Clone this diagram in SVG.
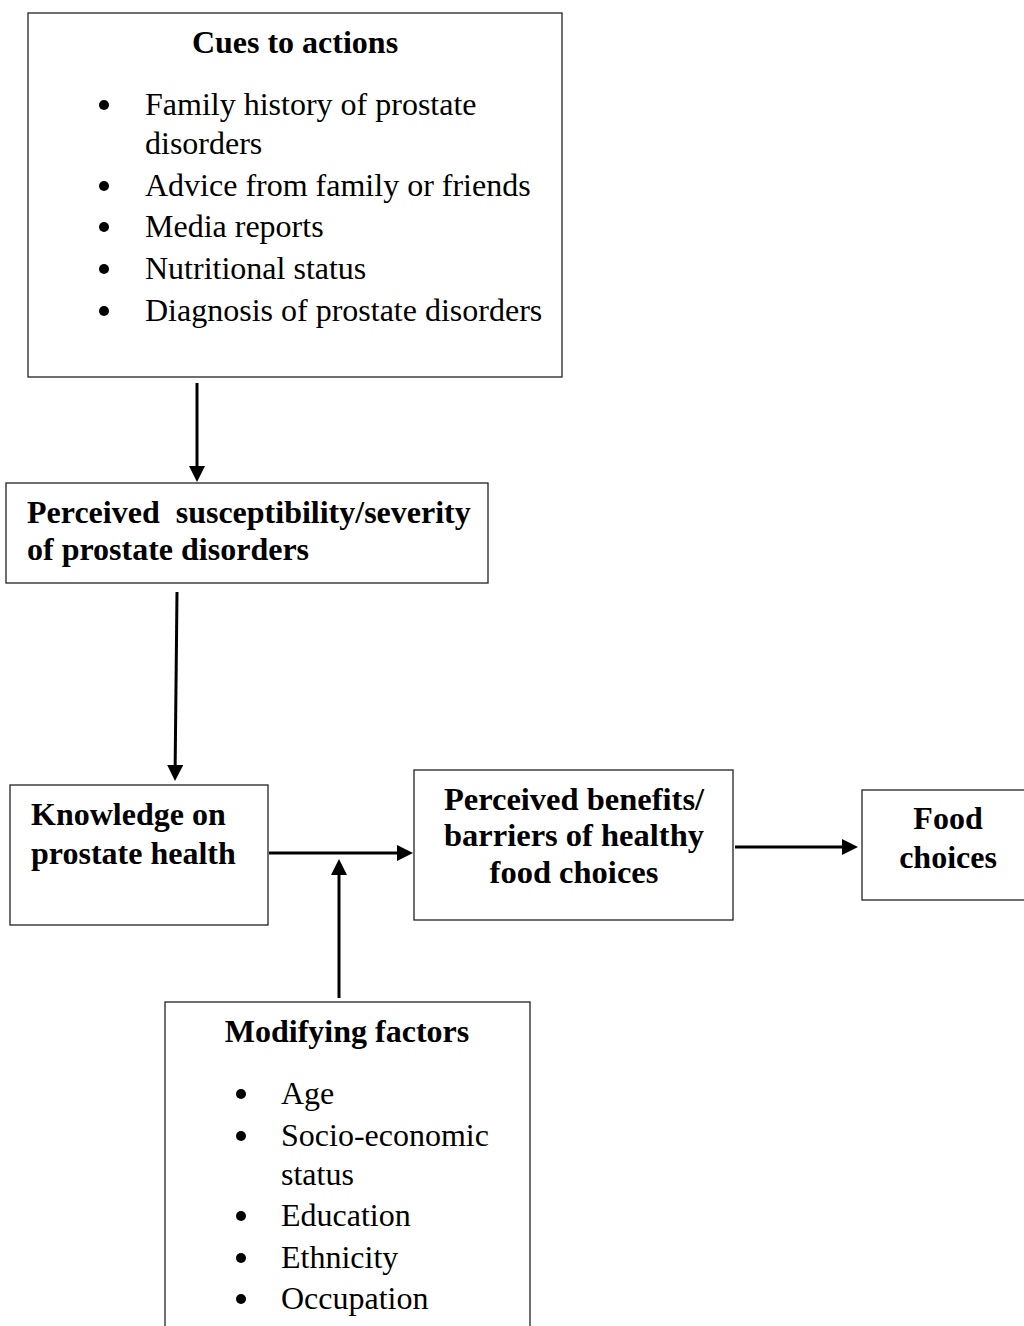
<svg xmlns="http://www.w3.org/2000/svg" width="1024" height="1326" viewBox="0 0 1024 1326">
<style>
.box{fill:#fff;stroke:#222;stroke-width:1.3}
.t{font-family:"Liberation Serif","Times New Roman",serif;font-size:32px;fill:#000}
.b{font-weight:bold}
.c{text-anchor:middle}
.w{font-size:32.5px}
.ln{stroke:#000;stroke-width:3;fill:none}
</style>
<defs>
<marker id="ah" markerWidth="6" markerHeight="6" refX="2" refY="2.67" orient="auto" markerUnits="strokeWidth">
<path d="M0,0 L5.33,2.67 L0,5.33 Z" fill="#000"/>
</marker>
</defs>
<rect width="1024" height="1326" fill="#fff"/>
<g id="cues">
<rect class="box" x="28" y="13" width="534" height="364"/>
<text class="t b c" x="295" y="53">Cues to actions</text>
<g class="t">
<circle cx="104" cy="105" r="5"/><text x="145" y="115">Family history of prostate</text>
<text x="145" y="154">disorders</text>
<circle cx="104" cy="186" r="5"/><text x="145" y="196">Advice from family or friends</text>
<circle cx="104" cy="227" r="5"/><text x="145" y="237">Media reports</text>
<circle cx="104" cy="269" r="5"/><text x="145" y="279">Nutritional status</text>
<circle cx="104" cy="311" r="5"/><text x="145" y="321">Diagnosis of prostate disorders</text>
</g>
</g>
<g id="susceptibility">
<rect class="box" x="6" y="483" width="482" height="100"/>
<text class="t b" x="27" y="523" xml:space="preserve">Perceived  susceptibility/severity</text>
<text class="t b" x="27" y="560">of prostate disorders</text>
</g>
<g id="knowledge">
<rect class="box" x="10" y="785" width="258" height="140"/>
<text class="t b" x="31" y="825">Knowledge on</text>
<text class="t b" x="31" y="864">prostate health</text>
</g>
<g id="benefits">
<rect class="box" x="414" y="770" width="319" height="150"/>
<text class="t b c w" x="574" y="810">Perceived benefits/</text>
<text class="t b c w" x="574" y="846">barriers of healthy</text>
<text class="t b c w" x="574" y="883">food choices</text>
</g>
<g id="food">
<rect class="box" x="862" y="790" width="170" height="110"/>
<text class="t b c" x="948" y="829">Food</text>
<text class="t b c" x="948" y="868">choices</text>
</g>
<g id="modifying">
<rect class="box" x="165" y="1002" width="365" height="340"/>
<text class="t b c" x="347" y="1042">Modifying factors</text>
<g class="t">
<circle cx="241" cy="1094" r="5"/><text x="281" y="1104">Age</text>
<circle cx="241" cy="1136" r="5"/><text x="281" y="1146">Socio-economic</text>
<text x="281" y="1185">status</text>
<circle cx="241" cy="1216" r="5"/><text x="281" y="1226">Education</text>
<circle cx="241" cy="1258" r="5"/><text x="281" y="1268">Ethnicity</text>
<circle cx="241" cy="1299" r="5"/><text x="281" y="1309">Occupation</text>
</g>
</g>
<g id="connectors">
<line class="ln" x1="197" y1="383" x2="197" y2="472" marker-end="url(#ah)"/>
<line class="ln" x1="177" y1="592" x2="175.1" y2="771" marker-end="url(#ah)"/>
<line class="ln" x1="269" y1="853" x2="403" y2="853" marker-end="url(#ah)"/>
<line class="ln" x1="339" y1="998" x2="339" y2="869" marker-end="url(#ah)"/>
<line class="ln" x1="735" y1="847" x2="848" y2="847" marker-end="url(#ah)"/>
</g>
</svg>
